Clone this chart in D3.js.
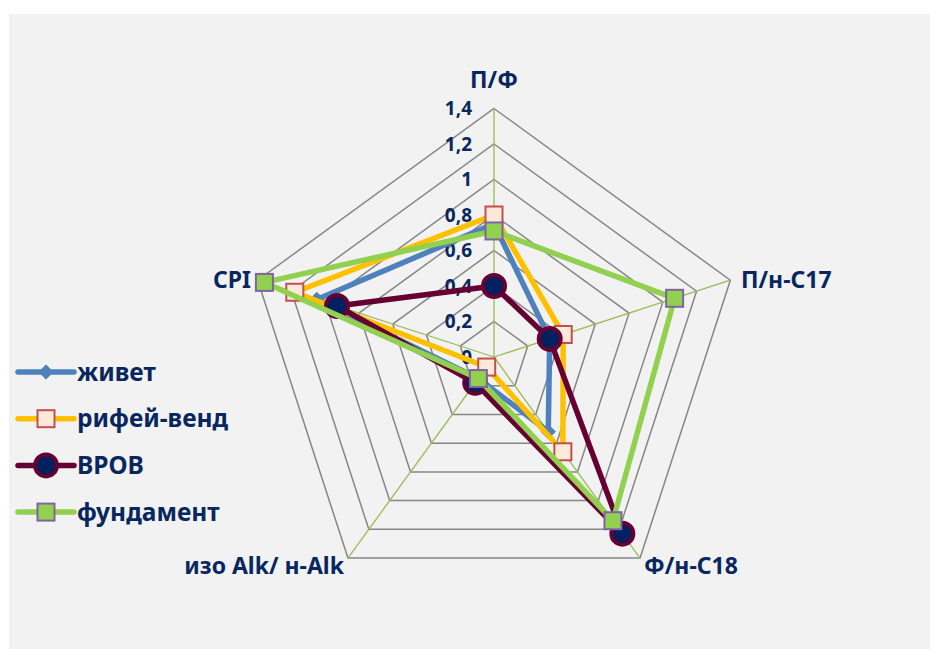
<!DOCTYPE html>
<html>
<head>
<meta charset="utf-8">
<script src="https://cdn.jsdelivr.net/npm/d3@7"></script>
<style>
  body { margin: 0; background: #fff; }
  text { font-family: "Noto Sans", "Open Sans", sans-serif; font-weight: bold; fill: #08275F; }
</style>
</head>
<body>
<svg id="chart" width="930" height="649"></svg>
<script>
// axes, clockwise from the top
const axes = ['П/Ф', 'П/н-С17', 'Ф/н-С18', 'изо Alk/ н-Alk', 'CPI'];
const ticks = [0, 0.2, 0.4, 0.6, 0.8, 1, 1.2, 1.4];
const seriesNames = ['живет', 'рифей-венд', 'ВРОВ', 'фундамент'];

const zhivet    = [0.75, 0.33, 0.52, 0.15, 1.05];
const rifeyVend = [0.80, 0.41, 0.66, 0.07, 1.18];
const vrov      = [0.40, 0.33, 1.23, 0.18, 0.93];
const fundament = [0.71, 1.07, 1.14, 0.15, 1.36];

const seriesValues = [zhivet, rifeyVend, vrov, fundament];

const styles = [
  { line: '#4F81BD', marker: 'diamond', fill: '#4F81BD', stroke: '#4F81BD' },
  { line: '#FFC000', marker: 'square', fill: '#FDE9D9', stroke: '#C0504D' },
  { line: '#660033', marker: 'circle', fill: '#002060', stroke: '#660033' },
  { line: '#92D050', marker: 'square', fill: '#92D050', stroke: '#8064A2' }
];

const svg = d3.select('#chart');
svg.append('rect').attr('x', 9).attr('y', 14).attr('width', 921).attr('height', 635).attr('fill', '#F2F2F2');

const cx = 494, cy = 357;
const r = d3.scaleLinear().domain([0, 1.4]).range([0, 248.5]);
const angle = i => i * 2 * Math.PI / axes.length;
const pt = (i, v) => [cx + r(v) * Math.sin(angle(i)), cy - r(v) * Math.cos(angle(i))];

const g = svg.append('g');

// grid pentagons
g.selectAll('.grid')
  .data(ticks.slice(1))
  .enter()
  .append('polygon')
  .attr('points', t => axes.map((a, i) => pt(i, t).join(',')).join(' '))
  .attr('fill', 'none')
  .attr('stroke', '#868686')
  .attr('stroke-width', 1.5);

// spokes
g.selectAll('.spoke')
  .data(axes)
  .enter()
  .append('line')
  .attr('x1', cx).attr('y1', cy)
  .attr('x2', (a, i) => pt(i, 1.4)[0])
  .attr('y2', (a, i) => pt(i, 1.4)[1])
  .attr('stroke', '#9BBB59')
  .attr('stroke-width', 1.3);

// tick labels
g.selectAll('.tick')
  .data(ticks)
  .enter()
  .append('text')
  .attr('x', 472)
  .attr('y', t => cy - r(t))
  .attr('dy', '0.35em')
  .attr('text-anchor', 'end')
  .attr('font-size', 19)
  .text(t => d3.format('.1~f')(t).replace('.', ','));

// axis labels
const labelPos = [
  { x: 494, y: 80, anchor: 'middle' },
  { x: 741, y: 280, anchor: 'start' },
  { x: 644, y: 566, anchor: 'start' },
  { x: 344, y: 566, anchor: 'end' },
  { x: 251, y: 280, anchor: 'end' }
];
g.selectAll('.axislabel')
  .data(axes)
  .enter()
  .append('text')
  .attr('x', (a, i) => labelPos[i].x)
  .attr('y', (a, i) => labelPos[i].y)
  .attr('dy', '0.35em')
  .attr('text-anchor', (a, i) => labelPos[i].anchor)
  .attr('font-size', 23)
  .text(a => a);

const lineGen = d3.line().curve(d3.curveLinearClosed);

const drawMarker = (sel, st, x, y) => {
  if (st.marker === 'diamond') {
    sel.append('path')
      .attr('d', d3.symbol().type(d3.symbolDiamond2).size(130)())
      .attr('transform', `translate(${x},${y})`)
      .attr('fill', st.fill).attr('stroke', st.stroke).attr('stroke-width', 1);
  } else if (st.marker === 'square') {
    sel.append('rect')
      .attr('x', x - 8.5).attr('y', y - 8.5).attr('width', 17).attr('height', 17)
      .attr('fill', st.fill).attr('stroke', st.stroke).attr('stroke-width', 2);
  } else {
    sel.append('circle')
      .attr('cx', x).attr('cy', y).attr('r', 11)
      .attr('fill', st.fill).attr('stroke', st.stroke).attr('stroke-width', 4);
  }
};

seriesValues.forEach((vals, s) => {
  const st = styles[s];
  const pts = vals.map((v, i) => pt(i, v));
  const sg = g.append('g');
  sg.append('path')
    .attr('d', lineGen(pts))
    .attr('fill', 'none')
    .attr('stroke', st.line)
    .attr('stroke-width', 5.5)
    .attr('stroke-linejoin', 'round');
  pts.forEach(p => drawMarker(sg, st, p[0], p[1]));
});

// legend
const legend = svg.append('g').attr('transform', 'translate(18,372)');
seriesNames.forEach((name, s) => {
  const st = styles[s];
  const y = s * 46.7;
  const lg = legend.append('g');
  lg.append('line')
    .attr('x1', 0).attr('x2', 56).attr('y1', y).attr('y2', y)
    .attr('stroke', st.line).attr('stroke-width', 5.5).attr('stroke-linecap', 'round');
  drawMarker(lg, st, 28, y);
  lg.append('text')
    .attr('x', 59).attr('y', y)
    .attr('dy', '0.35em')
    .attr('font-size', 24.5)
    .text(name);
});
</script>
</body>
</html>
